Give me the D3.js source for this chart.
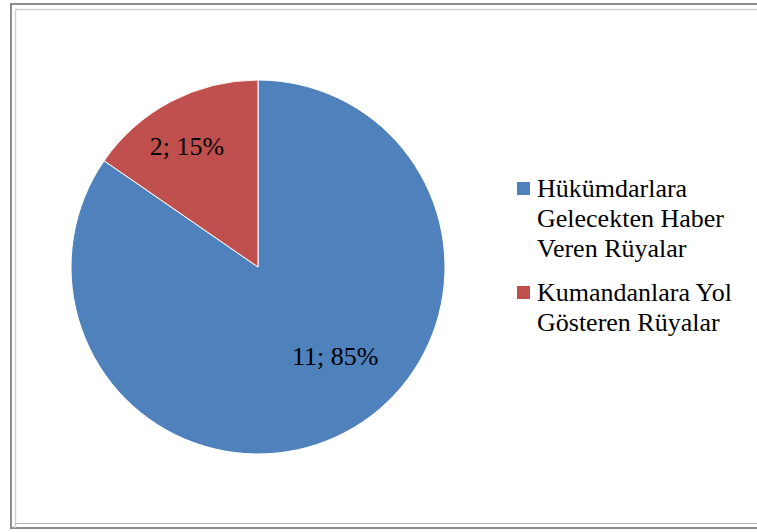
<!DOCTYPE html>
<html>
<head>
<meta charset="utf-8">
<script src="https://cdn.jsdelivr.net/npm/d3@7"></script>
<style>
  html, body { margin: 0; padding: 0; background: #fff; }
  svg { display: block; }
</style>
</head>
<body>
<div id="chart"></div>
<script>
// chart values
const categories = ["Hükümdarlara Gelecekten Haber Veren Rüyalar", "Kumandanlara Yol Gösteren Rüyalar"];
const values = [11, 2];
const percents = ["85%", "15%"];
// legend lines as wrapped in the original
const legendLines = [
  ["Hükümdarlara", "Gelecekten Haber", "Veren Rüyalar"],
  ["Kumandanlara Yol", "Gösteren Rüyalar"]
];
const colors = ["#4F81BD", "#C0504D"];

const width = 757, height = 532;
const cx = 258, cy = 267, radius = 187;
const serif = "'Liberation Serif', 'Times New Roman', Times, 'DejaVu Serif', serif";

const svg = d3.select("#chart")
  .append("svg")
  .attr("width", width)
  .attr("height", height)
  .attr("font-family", serif);

// frame
svg.append("rect")
  .attr("x", 11).attr("y", 4)
  .attr("width", 760).attr("height", 524)
  .attr("fill", "none")
  .attr("stroke", "#8c8c8c")
  .attr("stroke-width", 2);
svg.append("path")
  .attr("d", "M15.5,528 V9.5 H760")
  .attr("fill", "none")
  .attr("stroke", "#d0d0d0")
  .attr("stroke-width", 1.5);
svg.append("line")
  .attr("x1", 15).attr("x2", 760)
  .attr("y1", 523.5).attr("y2", 523.5)
  .attr("stroke", "#b8b8b8");

const color = d3.scaleOrdinal().domain(categories).range(colors);

const pie = d3.pie().sort(null).value((d) => d.value);
const data = categories.map((c, i) => ({ name: c, value: values[i], pct: percents[i] }));
const arcs = pie(data);

const arc = d3.arc().innerRadius(0).outerRadius(radius);

const g = svg.append("g").attr("transform", `translate(${cx},${cy})`);

g.selectAll("path")
  .data(arcs)
  .join("path")
  .attr("d", arc)
  .attr("fill", (d) => color(d.data.name))
  .attr("stroke", "#fff")
  .attr("stroke-width", 1);

// labels ("best fit"-ish placement)
function labelPos(d, i) {
  const mid = (d.startAngle + d.endAngle) / 2;
  const a = i === 0 ? mid - 0.23 : mid - 0.047;
  const r = i === 0 ? radius * 0.63 : radius * 0.75;
  return [Math.sin(a) * r, -Math.cos(a) * r];
}

g.selectAll("text.lbl")
  .data(arcs)
  .join("text")
  .attr("class", "lbl")
  .attr("transform", (d, i) => `translate(${labelPos(d, i)})`)
  .attr("text-anchor", "middle")
  .attr("dy", "0.33em")
  .attr("font-family", serif)
  .attr("font-size", 26)
  .attr("fill", "#000")
  .text((d) => `${d.data.value}; ${d.data.pct}`);

// legend
const legend = svg.append("g").attr("transform", "translate(517,0)");
const legendTop = [197, 301];

legendLines.forEach((lines, i) => {
  const lg = legend.append("g").attr("transform", `translate(0,${legendTop[i]})`);
  lg.append("rect")
    .attr("x", 0).attr("y", -15)
    .attr("width", 13).attr("height", 13)
    .attr("fill", color(categories[i]));
  lg.append("text")
    .attr("font-family", serif)
    .attr("font-size", 26)
    .attr("fill", "#000")
    .selectAll("tspan")
    .data(lines)
    .join("tspan")
    .attr("x", 20)
    .attr("y", (d, j) => j * 30)
    .text((d) => d);
});
</script>
</body>
</html>
